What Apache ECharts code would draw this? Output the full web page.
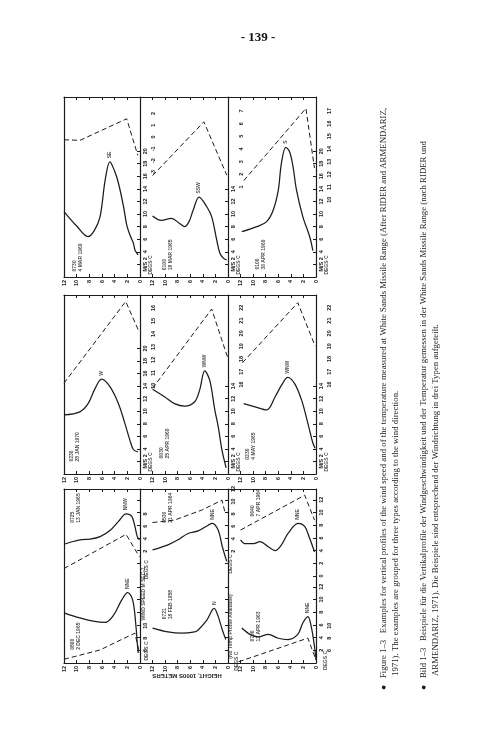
<!DOCTYPE html>
<html><head><meta charset="utf-8">
<script src="https://cdn.jsdelivr.net/npm/echarts@6/dist/echarts.min.js"></script>
<style>html,body{margin:0;padding:0;background:#fff;}#c{width:504px;height:739px;}</style>
</head><body><div id="c"></div>
<script>
// ---------- DATA : points are [height (1000s m), value] ----------
const heightTicks = [0, 2, 4, 6, 8, 10, 12];

// Type 3 (top block)
const speedA1 = [[12,10.4],[10,8.1],[8.2,6.4],[7.2,7.4],[6.3,9.6],[5.5,15.4],[4.75,18.3],[4.0,16.8],[3.4,14.9],[2.6,11.2],[2.1,8.3],[1.6,6.7],[1.05,5.4],[0.8,4.3],[0.5,3.8],[0.3,3.5]];
const tempA1  = [[12,-0.23],[9.5,-0.29],[2.1,1.55],[0.35,-1.56]];
const speedA2 = [[12,9.7],[10.6,9.0],[9.0,9.3],[7.7,8.5],[6.9,8.0],[6.2,8.8],[5.55,10.6],[4.6,12.7],[3.4,11.2],[2.6,9.6],[1.8,5.9],[1.3,3.8],[0.75,3.0],[0.2,2.7]];
const tempA2  = [[12,1.9],[3.84,6.14],[0.2,1.94]];
const speedA3 = [[11.8,7.2],[9.4,8.0],[7.85,8.8],[6.8,10.65],[6.0,13.8],[5.5,18.1],[4.8,20.6],[4.2,19.9],[3.65,17.5],[3.1,13.8],[2.1,9.6],[1.0,6.4],[0.5,4.2]];
const tempA3  = [[11.5,11.5],[1.6,17.2],[0.25,12.5]];
// Type 2 (middle block)
const speedB1 = [[12,9.4],[9.5,9.9],[8.2,11.2],[7.1,13.6],[6.05,15.1],[4.75,13.9],[3.4,11.2],[2.4,8.1],[1.6,5.4],[1.05,3.9],[0.3,3.5]];
const tempB1  = [[12,10.2],[2.26,16.5],[0.27,14.3]];
const speedB2 = [[12,13.5],[10.1,12.3],[8.5,11.2],[6.9,10.8],[5.3,11.5],[4.5,13.4],[3.7,16.4],[2.9,14.9],[2.1,10.2],[1.55,7.5],[0.96,3.8],[0.3,1.0]];
const tempB2  = [[12,15.7],[2.6,21.9],[0.05,18.1]];
const speedB3 = [[11.5,11.2],[9.7,10.7],[7.85,10.2],[6.5,12.3],[5.5,14.1],[4.5,15.4],[3.4,14.4],[2.3,11.8],[1.3,8.1],[0.55,5.1],[0.15,4.1]];
const tempB3  = [[11.7,17.7],[2.9,22.4],[0.13,19.0]];
// Type 1 (bottom block, two soundings per panel)
const speedC1u = [[12,5.0],[9.5,5.7],[7.9,5.8],[6.3,6.2],[4.7,7.2],[3.4,8.6],[2.2,9.8],[1.3,9.4],[0.8,7.8],[0.43,6.2],[0.1,5.7]];
const tempC1u  = [[12,-0.8],[2.2,4.7],[0.1,1.1]];
const speedC1l = [[12,7.9],[9.5,7.1],[7.4,6.6],[5.5,6.4],[4.2,7.5],[2.9,9.9],[1.95,11.1],[1.15,9.9],[0.63,5.7],[0.43,3.1],[0.27,1.6]];
const tempC1l  = [[12,4.6],[6.3,6.1],[3.7,7.4],[0.8,8.8],[0.1,5.6]];
const speedC2u = [[12,4.1],[9.55,4.9],[7.95,5.7],[6.35,6.7],[4.75,7.1],[3.15,8.0],[2.5,8.3],[1.55,7.2],[0.9,4.6],[0.2,2.3]];
const tempC2u  = [[12,6.6],[8.5,7.0],[4.2,8.6],[0.95,10.2],[0.5,8.3]];
const speedC2l = [[12,5.5],[9.55,4.9],[7.4,4.7],[5.3,4.9],[4.75,5.2],[3.4,6.7],[2.2,8.6],[1.55,7.3],[0.9,5.2],[0.35,3.7]];
const tempC2l  = [];
const speedC3u = [[12,5.7],[11.3,5.1],[9.95,5.1],[8.9,5.4],[7.6,4.6],[6.5,4.0],[5.5,4.9],[4.45,6.7],[2.85,8.3],[1.8,7.8],[1.0,5.9],[0.24,3.8]];
const tempC3u  = [[12,5.4],[1.8,11.0],[0.24,7.0]];
const speedC3l = [[11.8,5.5],[10.5,4.5],[9.2,4.1],[7.6,4.5],[6.0,3.9],[4.45,3.7],[2.9,4.5],[2.1,6.3],[1.3,7.3],[0.75,5.7],[0.24,2.6],[0.0,0.5]];
const tempC3l  = [[12.3,4.2],[1.3,8.0],[0,4.5]];

const directions = ['SE','SSW','S','W','WNW','WNW','NNW','NNE','NNE','N','NNE','NNE'];
const dates = ['0730\n4 MAR 1969','0100\n18 MAR 1965','0100\n30 APR 1969',
               '0230\n28 JAN 1970','0030\n25 APR 1969','0230\n4 MAY 1965',
               '0725\n13 JAN 1965','0800\n2 DEC 1965','0530\n21 APR 1964',
               '0721\n18 FEB 1958','0640\n7 APR 1964','0700\n12 APR 1963'];

// tick label values
const speedTicks20 = [2,4,6,8,10,12,14,16,18,20];
const speedTicks14 = [2,4,6,8,10,12,14];
const speedTicksC  = [0,2,4,6,8,10,12];
const speedTicksC2 = [2,4,6,8,10,12];
const tempTicksA1 = [-3,-2,-1,0,1,2];
const tempTicksA2 = [1,2,3,4,5,6,7];
const tempTicksA3 = [10,11,12,13,14,15,16,17];
const tempTicksB1 = [10,11,12,13,14,15,16];
const tempTicksB2 = [16,17,18,19,20,21,22];
const tempTicksC1u = [2,4,6,8];
const tempTicksC1l = [6,8,10];
const tempTicksC2u = [2,4,6,8,10,12];
const tempTicksC3l = [6,8,10];

const pageNumber = '- 139 -';
const captionLines = [
  '\u25CF   Figure 1\u20133   Examples for vertical profiles of the wind speed and of the temperature measured at White Sands Missile Range (After RIDER and ARMENDARIZ,',
  '1971). The examples are grouped for three types according to the wind direction.',
  '\u25CF   Bild 1\u20133   Beispiele f\u00FCr die Vertikalprofile der Windgeschwindigkeit und der Temperatur gemessen in der White Sands Missile Range (nach RIDER und',
  'ARMENDARIZ, 1971). Die Beispiele sind entsprechend der Windrichtung in drei Typen aufgeteilt.'
];
const heightTitle = 'HEIGHT, 1000S METERS';

// ---------- LAYOUT ----------
const blocks = [{top:97,bottom:277},{top:295,bottom:474},{top:489,bottom:663}];
const cols = [{left:64,right:140,hmax:12},{left:140,right:228,hmax:14},{left:228,right:316,hmax:14}];
const cMid = 576;
const FONT = 'Liberation Sans';
const INK = '#1c1c1c';

const gridDefs = [
 {b:0,c:0,part:'full', speed:speedA1,temp:tempA1,k:0, dateAt:[9.8,0.8], sT:speedTicks20,sShow:true, tT:tempTicksA1, sMax:28.6,tR:[-11.9,3.4],tOff:8,unit:true,notes:[[-1.8,0.3,'DEGS C']]},
 {b:0,c:1,part:'full', speed:speedA2,temp:tempA2,k:1, dateAt:[9.5,1.0], sT:speedTicks14,sShow:true, tT:tempTicksA2, sMax:28.6,tR:[-6.1,8.1],tOff:8,unit:true,notes:[[-1.8,0.3,'DEGS C']]},
 {b:0,c:2,part:'full', speed:speedA3,temp:tempA3,k:2, dateAt:[8.7,1.1], sT:speedTicks20,sShow:true, tT:tempTicksA3, sMax:28.6,tR:[3.9,18.1],tOff:8,unit:true,notes:[[-1.8,0.3,'DEGS C']]},
 {b:1,c:0,part:'full', speed:speedB1,temp:tempB1,k:3, dateAt:[10.3,1.9], sT:speedTicks20,sShow:true, tT:tempTicksB1, sMax:28.5,tR:[3.2,17.0],tOff:8,unit:true,notes:[[-1.8,0.3,'DEGS C']]},
 {b:1,c:1,part:'full', speed:speedB2,temp:tempB2,k:4, dateAt:[10.0,2.4], sT:speedTicks14,sShow:true, tT:tempTicksB2, sMax:28.5,tR:[9.0,23.0],tOff:8,unit:true,notes:[[-1.8,0.3,'DEGS C']]},
 {b:1,c:2,part:'full', speed:speedB3,temp:tempB3,k:5, dateAt:[10.3,2.2], sT:speedTicks14,sShow:true, tT:tempTicksB2, sMax:28.5,tR:[9.0,23.0],tOff:8,unit:true,notes:[[-1.8,0.3,'DEGS C']]},
 {b:2,c:0,part:'upper',speed:speedC1u,temp:tempC1u,k:6, dateAt:[10.1,8.3], sT:speedTicksC2,sShow:false, tT:tempTicksC1u, sMax:13.7,tR:[-2,12],tOff:0,notes:[[-1.2,-0.6,'DEGS C']]},
 {b:2,c:0,part:'lower',speed:speedC1l,temp:tempC1l,k:7, dateAt:[10.1,2.0], sT:speedTicksC2,sShow:false, tT:tempTicksC1l, sMax:13.7,tR:[4,18],tOff:0,notes:[[-1.2,0.3,'DEGS C'],[-0.6,6.6,'WIND SPEED M SEC-1']]},
 {b:2,c:1,part:'upper',speed:speedC2u,temp:tempC2u,k:8, dateAt:[9.6,8.3], sT:speedTicksC2,sShow:false, tT:tempTicksC2u, sMax:13.7,tR:[-2,12],tOff:0,notes:[[-0.45,0.3,'DEGS C']]},
 {b:2,c:1,part:'lower',speed:speedC2l,temp:tempC2l,k:9, dateAt:[9.6,6.8], sT:speedTicksC2,sShow:false, tT:[], sMax:13.7,tR:[4,18],tOff:0,notes:[[-0.5,0.6,'(No Temp Profile Available)'],[-1.4,-1.3,'DEGS C']]},
 {b:2,c:2,part:'upper',speed:speedC3u,temp:tempC3u,k:10,dateAt:[9.5,9.3], sT:speedTicksC,sShow:true, tT:[], sMax:13.7,tR:[-2,12],tOff:8,notes:[]},
 {b:2,c:2,part:'lower',speed:speedC3l,temp:tempC3l,k:11,dateAt:[9.5,3.3], sT:speedTicksC2,sShow:true, tT:tempTicksC3l, sMax:13.7,tR:[4,18],tOff:8,notes:[[-1.6,-1.2,'DEGS C']]}
];

const chart = echarts.init(document.getElementById('c'));
const txt = {fontFamily:FONT, fontWeight:'bold', color:INK};
const option = {animation:false, backgroundColor:'#fff', grid:[], xAxis:[], yAxis:[], series:[], graphic:[]};

gridDefs.forEach((g,i)=>{
  const blk = blocks[g.b], col = cols[g.c];
  const top = g.part==='lower' ? cMid : blk.top;
  const bottom = g.part==='upper' ? cMid : blk.bottom;
  option.grid.push({left:col.left, top:top, width:col.right-col.left, height:bottom-top, containLabel:false, outerBoundsMode:'none'});
  const showB = g.part!=='upper', showT = g.part!=='lower';
  const ls = {color:INK, width:1.2};
  option.xAxis.push({gridIndex:i,type:'value',min:0,max:col.hmax,inverse:true,position:'bottom',
    axisLine:{show:showB,onZero:false,lineStyle:ls},
    axisTick:{show:showB,inside:true,length:3,customValues:heightTicks,lineStyle:{color:INK,width:1}},
    axisLabel:Object.assign({show:showB,customValues:heightTicks,rotate:90,fontSize:5.5,margin:3},txt),
    splitLine:{show:false}});
  option.xAxis.push({gridIndex:i,type:'value',min:0,max:col.hmax,inverse:true,position:'top',
    axisLine:{show:showT,onZero:false,lineStyle:ls},
    axisTick:{show:showT,inside:true,length:3,customValues:heightTicks,lineStyle:{color:INK,width:1}},
    axisLabel:{show:false},splitLine:{show:false}});
  const sIdx = option.yAxis.length;
  option.yAxis.push({gridIndex:i,type:'value',min:0,max:g.sMax,position:'right',
    axisLine:{show:true,onZero:false,lineStyle:ls},
    axisTick:{show:true,inside:true,length:3,customValues:g.sT,lineStyle:{color:INK,width:1}},
    axisLabel:Object.assign({show:g.sShow,customValues:g.sT,rotate:90,fontSize:5.5,margin:2,
      formatter:(v)=> (g.unit && v===2) ? 'M/S 2' : String(v)},txt),
    splitLine:{show:false}});
  option.yAxis.push({gridIndex:i,type:'value',min:g.tR[0],max:g.tR[1],position:'right',offset:g.tOff,
    axisLine:{show:false,onZero:false},axisTick:{show:false},
    axisLabel:Object.assign({show:g.tT.length>0,customValues:g.tT.length?g.tT:[g.tR[0]],rotate:90,fontSize:5.5,margin:2},txt),
    splitLine:{show:false}});
  option.yAxis.push({gridIndex:i,type:'value',min:0,max:g.sMax,position:'left',
    axisLine:{show:g.c===0,onZero:false,lineStyle:ls},axisTick:{show:false},axisLabel:{show:false},splitLine:{show:false}});

  option.series.push({type:'line',xAxisIndex:2*i+0,yAxisIndex:sIdx,data:g.speed,smooth:0.35,symbol:'none',
    lineStyle:{color:INK,width:1.25},silent:true,clip:false,z:3});
  if (g.temp.length) option.series.push({type:'line',xAxisIndex:2*i,yAxisIndex:sIdx+1,data:g.temp,symbol:'none',
    lineStyle:{color:INK,width:1,type:[5,3]},silent:true,clip:false,z:3});

  const peak = g.speed.reduce((a,b)=> b[1]>a[1] ? b : a);
  const items = [
    {value:peak, label:{formatter:directions[g.k], position:'top', distance:3, rotate:90, align:'left', verticalAlign:'middle'}},
    {value:g.dateAt, label:{formatter:dates[g.k], position:[0,0], rotate:90, align:'left', verticalAlign:'middle', lineHeight:6}}
  ];
  g.notes.forEach(n=> items.push({value:[n[0],n[1]], label:{formatter:n[2], position:[0,0], rotate:90, align:'left', verticalAlign:'middle'}}));
  option.series.push({type:'scatter',xAxisIndex:2*i,yAxisIndex:sIdx,data:items,symbolSize:1,
    itemStyle:{color:'rgba(0,0,0,0)'},label:Object.assign({show:true,fontSize:5},txt),silent:true,clip:false,z:5});
});

// page number, caption, height title
option.graphic.push({type:'text',x:258,y:38,style:{text:pageNumber,fontSize:13,fontWeight:'bold',fontFamily:'Liberation Serif',fill:'#111',textAlign:'center',textVerticalAlign:'middle'}});
const capX = [384,396,424,436], capY = [690,676,690,676];
captionLines.forEach((t,j)=> option.graphic.push({type:'text',x:capX[j],y:capY[j],rotation:Math.PI/2,
  style:{text:t,fontSize:8.8,fontFamily:'Liberation Serif',fill:'#1a1a1a',textAlign:'left',textVerticalAlign:'middle'}}));
option.graphic.push({type:'text',x:187,y:676,rotation:Math.PI,style:{text:heightTitle,fontSize:6,fontWeight:'bold',fontFamily:FONT,fill:INK,textAlign:'center',textVerticalAlign:'middle'}});

chart.setOption(option);
</script></body></html>
